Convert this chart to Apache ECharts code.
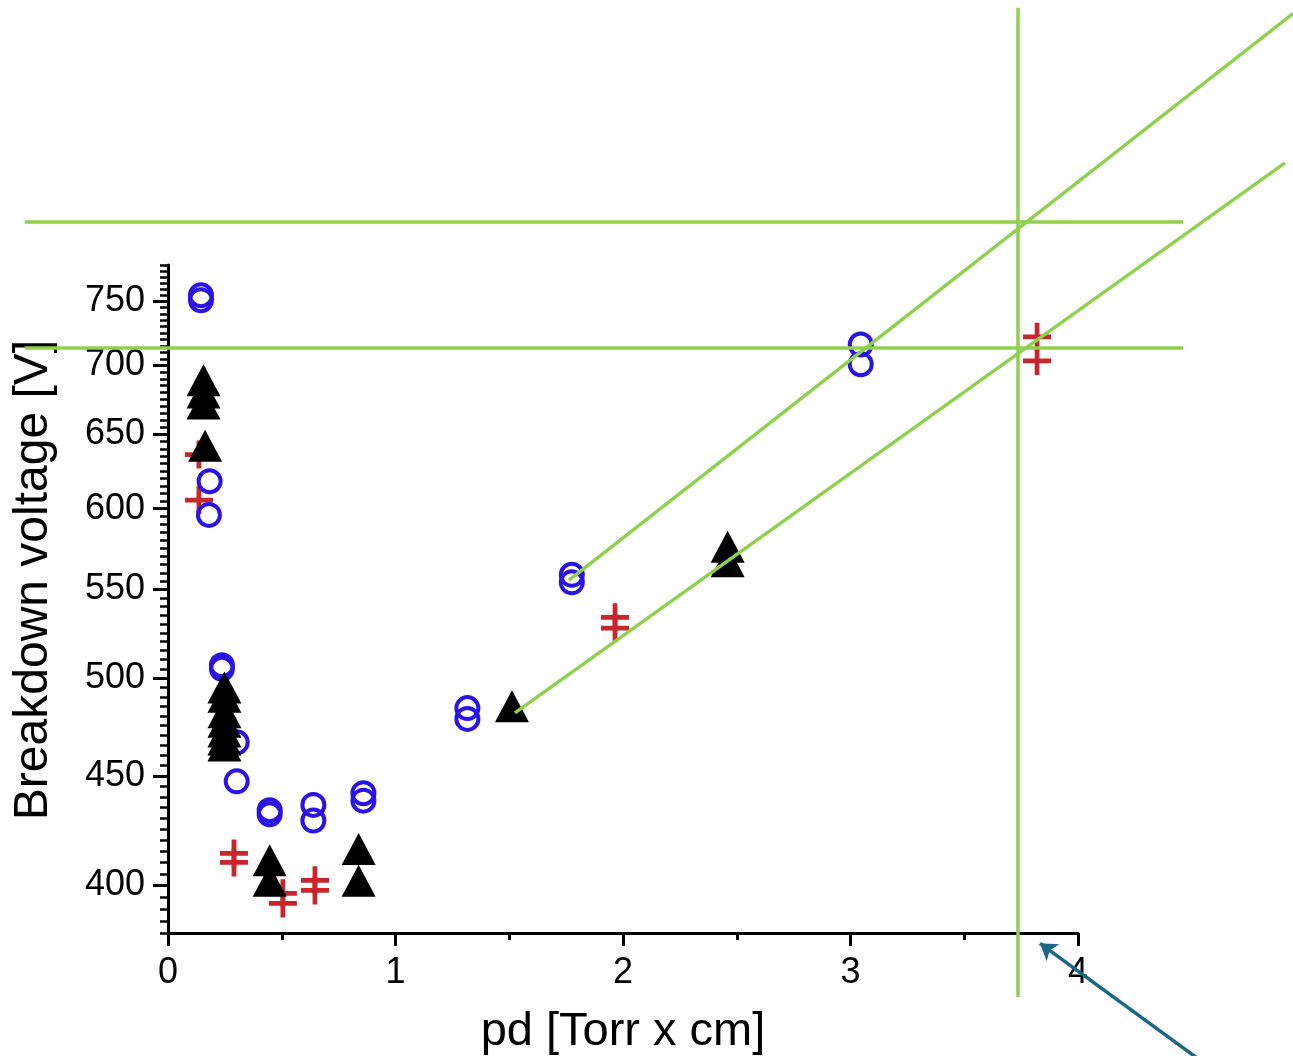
<!DOCTYPE html>
<html>
<head>
<meta charset="utf-8">
<style>
  html, body { margin: 0; padding: 0; background: #ffffff; }
  #chart { width: 1293px; height: 1056px; }
</style>
<script src="https://cdn.jsdelivr.net/npm/echarts@6/dist/echarts.min.js"></script>
</head>
<body>
<div id="chart"></div>
<script>
// ---- data ----
const circleX = [0.145, 0.145, 0.183, 0.180, 0.237, 0.237, 0.302, 0.302, 0.447, 0.447, 0.639, 0.639, 0.859, 0.859, 1.316, 1.316, 1.775, 1.775, 3.045, 3.045];
const circleY = [755, 751, 618, 596, 507, 505, 466.6, 447.4, 433.7, 431.8, 436.2, 428.9, 441.7, 438.2, 484.1, 478.5, 558.8, 554.3, 716, 701];

const triX = [0.156, 0.156, 0.156, 0.163, 0.248, 0.248, 0.248, 0.248, 0.248, 0.248, 0.248, 0.447, 0.447, 0.838, 0.838, 1.512, 2.46, 2.46];
const triY = [689, 680, 672, 642, 495, 490, 482, 477, 472, 468, 465, 411, 402, 416, 402, 485, 576, 567];

const crossX = [0.136, 0.136, 0.29, 0.29, 0.505, 0.505, 0.646, 0.646, 1.965, 1.965, 3.82, 3.82];
const crossY = [636, 605.5, 414, 410, 396.6, 392.3, 402.2, 397.8, 533.8, 527.6, 722, 703.5];

// green guide lines (data coordinates, start / end)
const guideStart = [[-0.63, 713.5], [-0.63, 817], [3.736, 354.7], [1.763, 555.6], [1.525, 481.6]];
const guideEnd   = [[4.462, 713.5], [4.462, 817], [3.736, 1029], [4.945, 1022.5], [4.910, 870.6]];

// arrow (data coordinates, tail / head)
const arrowTail = [4.536, 331.4];
const arrowHead = [3.833, 375.8];

// axis ticks
const yTickValues = [400, 450, 500, 550, 600, 650, 700, 750];
const yMinorTickValues = [];
for (let v = 380; v <= 780; v += 5) { if (yTickValues.indexOf(v) < 0) yMinorTickValues.push(v); }
const xMin = 0, xMax = 4, xInterval = 1;
const yMin = 380, yMax = 780;

// ---- chart ----
const FONT = "'Liberation Sans', Arial, sans-serif";
const zip = (xs, ys) => xs.map((x, i) => [x, ys[i]]);
const crossPath = 'path://M0.415,0H0.585V0.415H1V0.585H0.585V1H0.415V0.585H0V0.415H0.415Z';

const chart = echarts.init(document.getElementById('chart'), null, { renderer: 'canvas' });
chart.setOption({
  animation: false,
  backgroundColor: '#ffffff',
  grid: { left: 168, right: 215, top: 265, bottom: 123, containLabel: false, outerBoundsMode: 'none' },
  xAxis: {
    type: 'value', min: xMin, max: xMax, interval: xInterval,
    name: 'pd [Torr x cm]', nameLocation: 'middle', nameGap: 76,
    nameTextStyle: { fontFamily: FONT, fontSize: 47, color: '#000' },
    axisLine: { show: true, lineStyle: { color: '#000', width: 3 } },
    axisTick: { show: true, length: 13, lineStyle: { color: '#000', width: 3 } },
    minorTick: { show: true, splitNumber: 2, length: 7, lineStyle: { color: '#000', width: 3 } },
    axisLabel: { fontFamily: FONT, fontSize: 36, color: '#000', margin: 22 },
    splitLine: { show: false }
  },
  yAxis: [{
    type: 'log', logBase: 10, min: yMin, max: yMax,
    name: 'Breakdown voltage [V]', nameLocation: 'middle', nameGap: 110,
    nameTextStyle: { fontFamily: FONT, fontSize: 48, color: '#000', padding: [0, 0, 0, 38] },
    axisLine: { show: true, lineStyle: { color: '#000', width: 3 } },
    axisTick: { show: true, length: 15, customValues: yTickValues, lineStyle: { color: '#000', width: 3 } },
    axisLabel: { fontFamily: FONT, fontSize: 36, color: '#000', margin: 23, customValues: yTickValues,
                 formatter: v => String(Math.round(v)) },
    minorTick: { show: false },
    splitLine: { show: false }
  }, {
    type: 'log', logBase: 10, min: yMin, max: yMax, position: 'left',
    axisLine: { show: false },
    axisTick: { show: true, length: 8, customValues: yMinorTickValues, lineStyle: { color: '#000', width: 2.5 } },
    axisLabel: { show: false },
    minorTick: { show: false },
    splitLine: { show: false }
  }],
  series: [
    {
      type: 'scatter', name: 'cross', data: zip(crossX, crossY),
      symbol: crossPath, symbolSize: 28,
      itemStyle: { color: '#c9252d', opacity: 1 }, z: 2
    },
    {
      type: 'scatter', name: 'circle', data: zip(circleX, circleY),
      symbol: 'circle', symbolSize: 22,
      itemStyle: { color: 'rgba(0,0,0,0)', borderColor: '#2b14e3', borderWidth: 4, opacity: 1 }, z: 3
    },
    {
      type: 'scatter', name: 'triangle', data: zip(triX, triY),
      symbol: 'triangle', symbolSize: [34, 32],
      itemStyle: { color: '#000000', opacity: 1 }, z: 4
    },
    {
      type: 'lines', coordinateSystem: 'cartesian2d', clip: false, z: 5,
      data: guideStart.map((s, i) => ({ coords: [s, guideEnd[i]] })),
      symbol: ['none', 'none'],
      lineStyle: { color: '#8fd14f', width: 3.5, opacity: 1 }
    },
    {
      type: 'lines', coordinateSystem: 'cartesian2d', clip: false, z: 6,
      data: [{ coords: [arrowTail, arrowHead] }],
      symbol: ['none', 'arrow'], symbolSize: [0, 16],
      lineStyle: { color: '#1b6686', width: 3.5, opacity: 1 }
    }
  ]
});
</script>
</body>
</html>
